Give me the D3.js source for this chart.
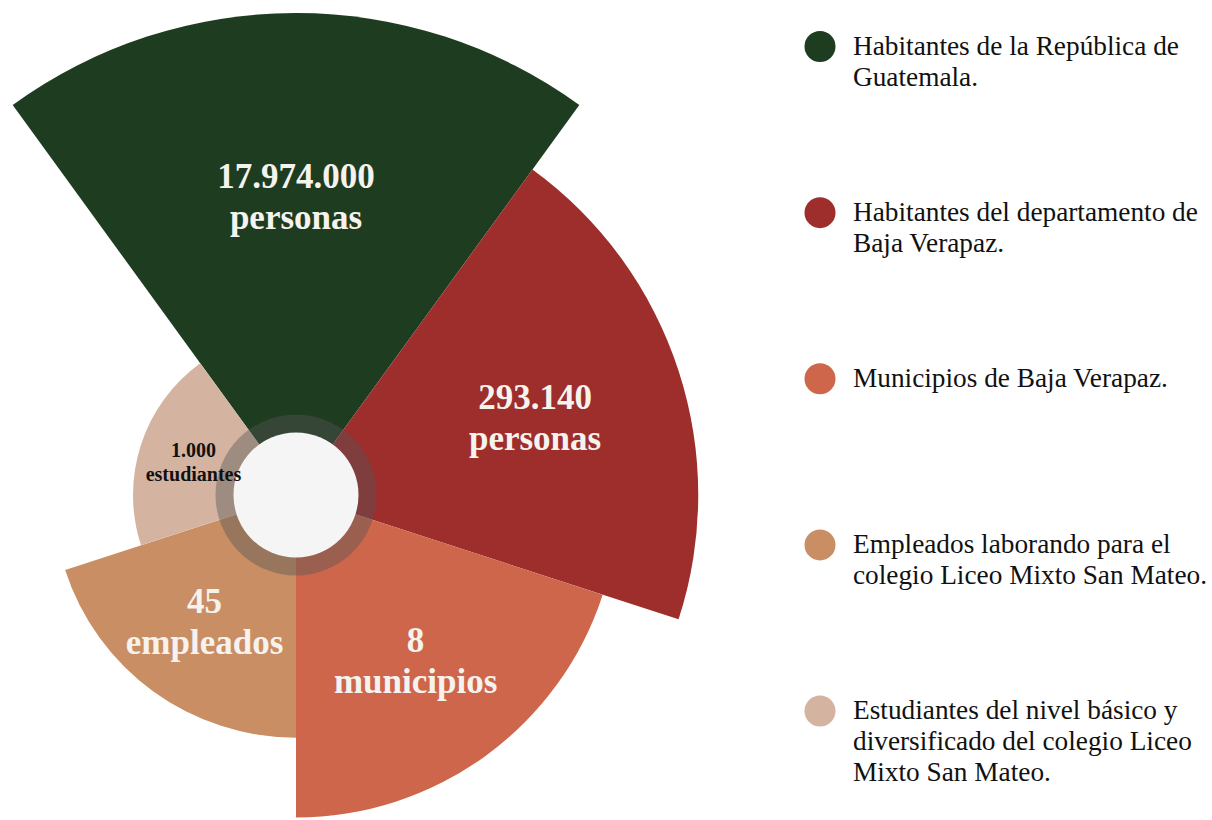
<!DOCTYPE html>
<html>
<head>
<meta charset="utf-8">
<script src="https://cdn.jsdelivr.net/npm/d3@7"></script>
<style>
  html, body { margin: 0; padding: 0; background: #ffffff; }
  svg { display: block; }
</style>
</head>
<body>
<svg id="chart" width="1212" height="820"></svg>
<script>
// ---- Data ----
const categories = [
  "Habitantes de la República de Guatemala.",
  "Habitantes del departamento de Baja Verapaz.",
  "Municipios de Baja Verapaz.",
  "Empleados laborando para el colegio Liceo Mixto San Mateo.",
  "Estudiantes del nivel básico y diversificado del colegio Liceo Mixto San Mateo."
];
const legendLines = [
  ["Habitantes de la República de", "Guatemala."],
  ["Habitantes del departamento de", "Baja Verapaz."],
  ["Municipios de Baja Verapaz."],
  ["Empleados laborando para el", "colegio Liceo Mixto San Mateo."],
  ["Estudiantes del nivel básico y", "diversificado del colegio Liceo", "Mixto San Mateo."]
];
const values = [17974000, 293140, 8, 45, 1000];
const valueLabels = ["17.974.000", "293.140", "8", "45", "1.000"];
const units = ["personas", "personas", "municipios", "empleados", "estudiantes"];
const colors = ["#1e3c1f", "#9d2e2c", "#cd664a", "#c98e64", "#d4b4a0"];

// ---- Layout ----
const svg = d3.select("#chart");
const cx = 296, cy = 495;
const n = categories.length;
const idx = d3.range(n);

// equal angular slices, starting left of north
const angle = d3.scaleLinear().domain([0, n]).range([-36 * Math.PI / 180, (360 - 36) * Math.PI / 180]);
// radius by rank in the list
const radius = d3.scaleLinear().domain([0, n - 1]).range([482, 163]);

const arc = d3.arc()
  .innerRadius(0)
  .outerRadius(i => radius(i))
  .startAngle(i => angle(i))
  .endAngle(i => angle(i + 1));

const g = svg.append("g").attr("transform", `translate(${cx},${cy})`);

g.selectAll("path.seg")
  .data(idx)
  .join("path")
  .attr("class", "seg")
  .attr("d", arc)
  .attr("fill", i => colors[i]);

// translucent ring + white hole
g.append("path")
  .attr("d", d3.arc().innerRadius(62).outerRadius(80.5).startAngle(0).endAngle(2 * Math.PI)())
  .attr("fill", "#555555")
  .attr("fill-opacity", 0.42);
g.append("circle").attr("r", 62.5).attr("fill", "#f5f5f5");

// labels
const labels = g.selectAll("g.lab")
  .data(idx)
  .join("g")
  .attr("class", "lab")
  .attr("transform", i => {
    const a = (angle(i) + angle(i + 1)) / 2;
    const r = 0.6 * radius(i) + 10;
    return `translate(${r * Math.sin(a)},${-r * Math.cos(a)})`;
  });

labels.each(function(i) {
  const sel = d3.select(this);
  const small = i === n - 1;
  const fs = small ? 20 : 35;
  const color = small ? "#111111" : "#f6f2ee";
  const o1 = small ? -5 : -8;
  const o2 = small ? 19 : 33;
  sel.append("text")
    .attr("y", o1)
    .attr("text-anchor", "middle")
    .attr("font-family", "'Liberation Serif', 'Times New Roman', serif")
    .attr("font-weight", "bold")
    .attr("font-size", fs)
    .attr("fill", color)
    .text(valueLabels[i]);
  sel.append("text")
    .attr("y", o2)
    .attr("text-anchor", "middle")
    .attr("font-family", "'Liberation Serif', 'Times New Roman', serif")
    .attr("font-weight", "bold")
    .attr("font-size", fs)
    .attr("fill", color)
    .text(units[i]);
});

// ---- Legend ----
const legendY = d3.scaleLinear().domain([0, n - 1]).range([46.5, 711]);
const leg = svg.selectAll("g.leg")
  .data(idx)
  .join("g")
  .attr("class", "leg")
  .attr("transform", i => `translate(820,${legendY(i)})`);

leg.append("circle").attr("r", 15.5).attr("fill", i => colors[i]);
leg.each(function(i) {
  const t = d3.select(this).append("text")
    .attr("font-family", "'Liberation Serif', 'Times New Roman', serif")
    .attr("font-size", 27.3)
    .attr("fill", "#111111");
  legendLines[i].forEach((line, k) => {
    t.append("tspan")
      .attr("x", 33)
      .attr("y", 8 + k * 31)
      .text(line);
  });
});
</script>
</body>
</html>
